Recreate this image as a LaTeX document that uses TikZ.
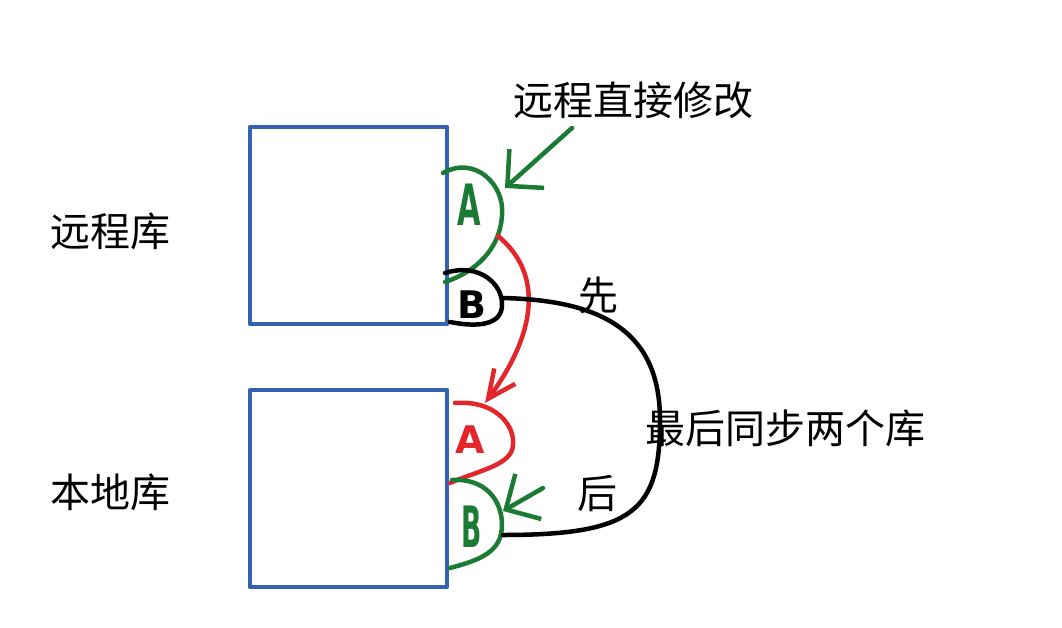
\documentclass[tikz,border=0pt]{standalone}
\usepackage{fontspec}
\setmainfont{DejaVu Sans}
\newfontfamily\cjk{Noto Sans CJK SC}
\definecolor{ink}{HTML}{000000}
\definecolor{figblue}{HTML}{3561B1}
\definecolor{figgreen}{HTML}{1B7B34}
\definecolor{figred}{HTML}{E3262C}
\newcommand{\figfontsize}{\fontsize{40}{46}\selectfont}
\newcommand{\figletter}{\rmfamily\fontsize{38}{38}\selectfont\bfseries}
\tikzset{
  every picture/.style = {font=\cjk\figfontsize, line join=round},
  pen/.style           = {line width=4.5pt, line cap=round},
}
\usetikzlibrary{arrows.meta,positioning}

\begin{document}
\begin{tikzpicture}[x=1pt, y=-1pt]
  \tikzset{
    repo/.style   = {draw=figblue, line width=4.5pt, minimum width=197pt,
                     minimum height=197pt, inner sep=0pt},
    letter/.style = {inner sep=0pt, font=\figletter},
    % hand-drawn barbs, one size per arrow
    greenarrow/.style = {figgreen, pen, -{Straight Barb[length=26pt, width=52pt]}},
    redarrow/.style   = {figred, pen, -{Straight Barb[length=28pt, width=26pt]}},
  }
  \useasboundingbox (0,0) rectangle (1062,628);

  % --- the two repositories -------------------------------------------------
  \node[repo] (remote) at (348.5,225.5) {};
  \node[repo] (local)  at (348.5,488.5) {};
  \node[left=74pt of remote, yshift=-6pt] (remotelabel) {远程库};
  \node[left=74pt of local, yshift=-4pt]  (locallabel)  {本地库};

  % --- commit bubbles on the right edge of each box --------------------------
  % remote: A (green, edited on the remote) above B (black)
  \draw[figgreen, pen] (443,173) .. controls (475,155) and (505,185) .. (502,215)
                                 .. controls (500,250) and (475,272) .. (445,282);
  \node[letter, text=figgreen] (remoteA) at (469,205) {\scalebox{0.8}[1.5]{A}};
  \draw[ink, pen] (445,273) .. controls (480,262) and (503,285) .. (502,305)
                            .. controls (502,324) and (480,328) .. (450,322);
  \node[letter, text=ink] (remoteB) at (472,305) {B};
  % local: A (red, pulled first) above B (green)
  \draw[figred, pen] (455,403) .. controls (495,400) and (515,425) .. (513,445)
                               .. controls (512,465) and (480,470) .. (450,483);
  \node[letter, text=figred] (localA) at (470,440) {A};
  \draw[figgreen, pen] (452,480) .. controls (485,478) and (502,500) .. (502,525)
                                 .. controls (502,552) and (480,560) .. (450,568);
  \node[letter, text=figgreen] (localB) at (472,527) {\scalebox{0.7}[1.5]{B}};

  % --- connector end points on the bubbles ------------------------------------
  \coordinate (remoteAout) at (498,236);
  \coordinate (remoteAin)  at (505,188);
  \coordinate (remoteBout) at (502,298);
  \coordinate (localAin)   at (485,403);
  \coordinate (localBin)   at (503,511);
  \coordinate (localBout)  at (503,535);
  \coordinate (notetail)   at (572,128);
  \coordinate (edittail)   at (543,488);

  % --- labels --------------------------------------------------------------
  \node (note)  at (633,100) {远程直接修改};
  \node (first) at (598,295) {先};
  \node (then)  at (597,493) {后};
  \node (sync)  at (785,428) {最后同步两个库};

  % --- connectors ------------------------------------------------------------
  \draw[greenarrow] (notetail) -- (remoteAin);
  \draw[greenarrow] (edittail) -- (localBin);
  \draw[redarrow] (remoteAout) .. controls (545,275) and (535,335) .. (localAin);
  \draw[ink, pen] (remoteBout) .. controls (600,300) and (660,330) .. (660,420)
                               .. controls (660,510) and (635,535) .. (localBout);
\end{tikzpicture}
\end{document}
